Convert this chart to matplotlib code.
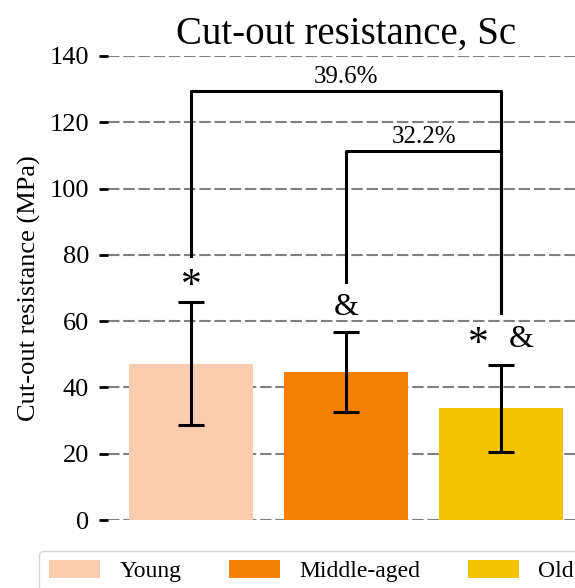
import matplotlib
matplotlib.use("Agg")
import matplotlib.pyplot as plt
import numpy as np

plt.rcParams['font.family'] = ['Liberation Serif', 'DejaVu Serif']

# data
groups = ['Young', 'Middle-aged', 'Old']
means = [47.1, 44.7, 33.8]
err_lo = [28.7, 32.6, 20.5]
err_hi = [65.8, 56.7, 46.8]
colors = ['#FACDB1', '#F47F00', '#F4C300']

# brackets: (left bar, right bar, height, left foot, right foot, label)
brackets = [(0, 2, 129.4, 79.7, 62.5, '39.6%'),
            (1, 2, 111.3, 71.8, 62.5, '32.2%')]
# significance marks: (x, y, text)
marks = [(0, 70.5, '*'), (1, 64.0, '&'), (1.855, 53.0, '*'), (2.13, 54.5, '&')]

fig = plt.figure(figsize=(5.75, 5.88), dpi=100)
ax = fig.add_axes([0.1878, 0.1156, 0.828, 0.7892])

x = np.arange(len(groups))
yerr = [np.array(means) - np.array(err_lo), np.array(err_hi) - np.array(means)]
bars = ax.bar(x, means, width=0.8, color=colors, label=groups, zorder=2)
ax.errorbar(x, means, yerr=yerr, fmt='none', ecolor='black', elinewidth=2.2,
            capsize=9.5, capthick=2.2, zorder=3)

for a, b, h, fa, fb, lab in brackets:
    ax.plot([a, a, b, b], [fa, h, h, fb], color='black', lw=2.2, zorder=3)
    ax.text((a + b) / 2, h + 0.8, lab, ha='center', va='bottom', fontsize=18)

for mx, my, t in marks:
    ax.text(mx, my, t, ha='center', va='center', fontsize=30 if t == '*' else 23)

ax.set_xlim(-0.535, 2.535)
ax.set_ylim(0, 140)
ax.set_yticks(np.arange(0, 141, 20))
ax.set_xticks([])
ax.tick_params(axis='y', labelsize=19, length=6.5, width=2, direction='out', pad=7)
ax.set_ylabel('Cut-out resistance (MPa)', fontsize=19, labelpad=6)
ax.set_title('Cut-out resistance, Sc', fontsize=28, pad=9)
ax.yaxis.grid(True, linestyle=(0, (5.5, 1.8)), color='gray', lw=1.5, zorder=0)
ax.set_axisbelow(True)
for s in ax.spines.values():
    s.set_visible(False)

fig.legend(handles=bars, labels=groups, loc='upper left', bbox_to_anchor=(0.068, 0.063),
           borderaxespad=0, ncol=3, fontsize=17, handlelength=2.17, handleheight=0.74,
           handletextpad=0.83, columnspacing=2.0, frameon=True, edgecolor='#cccccc',
           fancybox=True)

fig.savefig('out.png', dpi=100)
